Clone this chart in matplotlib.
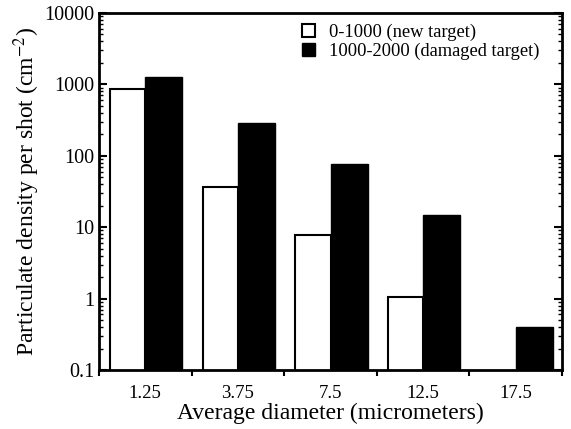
import numpy as np
import matplotlib
matplotlib.use("Agg")
import matplotlib.pyplot as plt
from matplotlib.ticker import LogLocator, NullFormatter, FixedLocator

# data
diameters = ["1.25", "3.75", "7.5", "12.5", "17.5"]
new_target = [850, 36, 7.8, 1.05, np.nan]
damaged_target = [1250, 290, 78, 15, 0.4]
legend_labels = ["0-1000 (new target)", "1000-2000 (damaged target)"]

plt.rcParams["font.family"] = ["Liberation Serif", "DejaVu Serif"]
plt.rcParams["mathtext.fontset"] = "stix"

fig = plt.figure(figsize=(5.71, 4.29), dpi=100)
ax = fig.add_axes([99 / 571, 1 - 370 / 429, 463 / 571, 357 / 429])

x = np.arange(len(diameters))
ax.bar(x - 0.38, new_target, width=0.38, align="edge",
       facecolor="white", edgecolor="black", linewidth=1.5,
       label=legend_labels[0])
ax.bar(x, damaged_target, width=0.40, align="edge",
       facecolor="black", edgecolor="black", linewidth=1.0,
       label=legend_labels[1])

ax.set_yscale("log")
ax.set_ylim(0.1, 10000)
ax.set_xlim(-0.5, len(diameters) - 0.5)
ax.set_yticks([0.1, 1, 10, 100, 1000, 10000])
ax.set_yticklabels(["0.1", "1", "10", "100", "1000", "10000"])
ax.yaxis.set_minor_locator(LogLocator(base=10, subs=np.arange(2, 10)))
ax.yaxis.set_minor_formatter(NullFormatter())
ax.tick_params(axis="y", which="major", direction="in", length=6, width=1.5,
               right=True, labelsize=14.5, pad=3)
ax.tick_params(axis="y", which="minor", direction="in", length=3, width=1,
               right=True)

# category boundaries get ticks, labels sit in the middle
ax.xaxis.set_major_locator(FixedLocator(np.arange(-0.5, len(diameters), 1.0)))
ax.xaxis.set_major_formatter(NullFormatter())
ax.xaxis.set_minor_locator(FixedLocator(x))
ax.set_xticklabels(diameters, minor=True)
ax.tick_params(axis="x", which="major", direction="out", length=4, width=1.5)
ax.tick_params(axis="x", which="minor", length=0, pad=11, labelsize=13.5)

for s in ax.spines.values():
    s.set_linewidth(2)

ax.set_xlabel("Average diameter (micrometers)", fontsize=17)
ax.xaxis.set_label_coords(0.5, -0.093)
ax.set_ylabel("Particulate density per shot (cm$^{-2}$)", fontsize=17,
              labelpad=2)

ax.legend(loc="upper left", bbox_to_anchor=(0.41, 1.005), frameon=False,
          fontsize=13.3, handlelength=0.7, handleheight=0.7, handletextpad=0.8,
          labelspacing=0.05, borderaxespad=0.3)

fig.savefig("out.png", dpi=100)
